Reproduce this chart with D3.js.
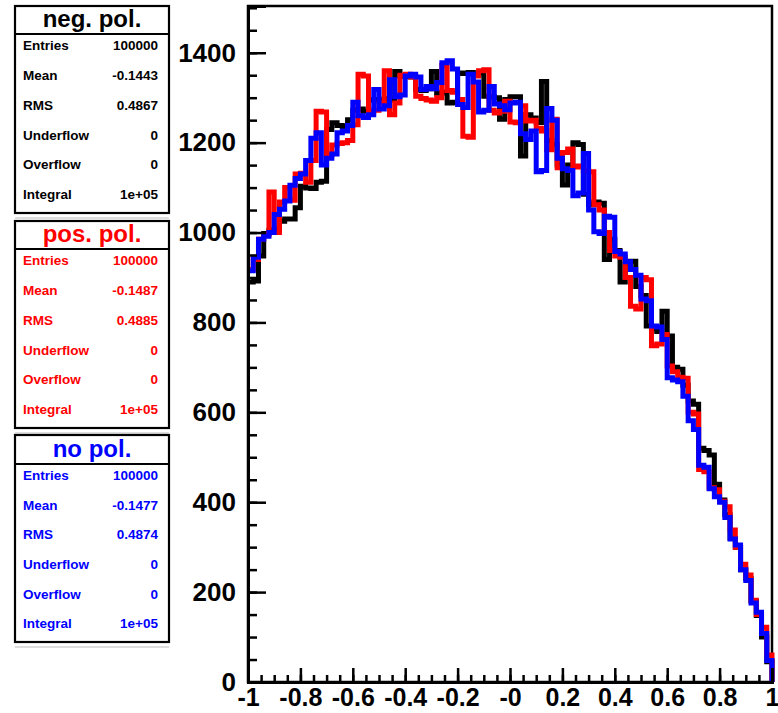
<!DOCTYPE html>
<html>
<head>
<meta charset="utf-8">
<script src="https://cdn.jsdelivr.net/npm/d3@7/dist/d3.min.js"></script>
<style>
  html, body { margin: 0; padding: 0; background: #ffffff; }
  svg { display: block; font-family: "Liberation Sans", Arial, Helvetica, sans-serif; }
</style>
</head>
<body>
<svg id="chart" width="778" height="713"></svg>
<script>
// ---- data ----
const xMin = -1, xMax = 1, nBins = 100;
const yMax = 1504;

const negPol = [
  890, 892, 948, 998, 1005, 1008, 1025, 1030, 1030, 1055,
  1103, 1099, 1098, 1112, 1114, 1229, 1244, 1238, 1236, 1251,
  1272, 1275, 1270, 1295, 1296, 1292, 1298, 1295, 1358, 1348,
  1347, 1346, 1318, 1316, 1320, 1358, 1310, 1312, 1288, 1290,
  1355, 1354, 1356, 1352, 1355, 1303, 1302, 1300, 1252, 1296,
  1302, 1302, 1170, 1262, 1255, 1245, 1336, 1205, 1196, 1150,
  1106, 1150, 1200, 1196, 1085, 1062, 1068, 1065, 940, 985,
  960, 890, 930, 936, 880, 860, 792, 786, 780, 825,
  770, 700, 696, 660, 625, 618, 520, 515, 505, 440,
  405, 372, 320, 300, 250, 230, 180, 148, 100, 45
];
const posPol = [
  918, 940, 985, 995, 1090, 1000, 1068, 1100, 1072, 1130,
  1132, 1112, 1160, 1270, 1268, 1172, 1195, 1198, 1200, 1205,
  1240, 1352, 1348, 1270, 1272, 1290, 1360, 1262, 1288, 1350,
  1352, 1346, 1303, 1298, 1295, 1292, 1300, 1372, 1316, 1312,
  1296, 1214, 1212, 1348, 1360, 1362, 1272, 1266, 1270, 1292,
  1246, 1244, 1282, 1248, 1250, 1232, 1226, 1184, 1252, 1144,
  1178, 1186, 1146, 1148, 1138, 1135, 1062, 1050, 1000, 960,
  948, 945, 900, 836, 830, 900, 895, 748, 752, 773,
  703, 690, 678, 676, 600, 596, 473, 468, 432, 428,
  402, 390, 338, 300, 262, 238, 182, 150, 122, 60
];
const noPol = [
  915, 945, 985, 992, 1000, 1040, 1052, 1070, 1105, 1120,
  1130, 1160, 1210, 1222, 1150, 1165, 1175, 1222, 1226, 1238,
  1290, 1260, 1256, 1262, 1318, 1275, 1282, 1340, 1302, 1306,
  1348, 1352, 1346, 1318, 1325, 1320, 1334, 1378, 1382, 1364,
  1285, 1278, 1352, 1335, 1268, 1272, 1325, 1286, 1282, 1273,
  1288, 1290, 1220, 1207, 1226, 1135, 1138, 1276, 1250, 1165,
  1142, 1138, 1082, 1088, 1176, 1050, 1002, 998, 1036, 1034,
  958, 952, 935, 918, 905, 852, 848, 792, 790, 762,
  677, 672, 668, 636, 581, 562, 482, 478, 430, 412,
  400, 366, 318, 305, 250, 226, 176, 155, 108, 48
];

const seriesNames = ["neg. pol.", "pos. pol.", "no pol."];
const seriesColors = ["#000000", "#ff0000", "#0000ff"];
const statNames = ["Entries", "Mean", "RMS", "Underflow", "Overflow", "Integral"];
const statNeg = ["100000", "-0.1443", "0.4867", "0", "0", "1e+05"];
const statPos = ["100000", "-0.1487", "0.4885", "0", "0", "1e+05"];
const statNo  = ["100000", "-0.1477", "0.4874", "0", "0", "1e+05"];

const xMajorTicks = [-1, -0.8, -0.6, -0.4, -0.2, 0, 0.2, 0.4, 0.6, 0.8, 1];
const xTickLabels = ["-1", "-0.8", "-0.6", "-0.4", "-0.2", "-0", "0.2", "0.4", "0.6", "0.8", "1"];
const yMajorTicks = [0, 200, 400, 600, 800, 1000, 1200, 1400];
const yTickLabels = ["0", "200", "400", "600", "800", "1000", "1200", "1400"];

// ---- layout ----
const svg = d3.select("#chart");
const plot = { left: 248, right: 772, top: 6, bottom: 682 };

const x = d3.scaleLinear().domain([xMin, xMax]).range([plot.left, plot.right]);
const y = d3.scaleLinear().domain([0, yMax]).range([plot.bottom, plot.top]);

// frame
svg.append("rect")
  .attr("x", plot.left).attr("y", plot.top)
  .attr("width", plot.right - plot.left).attr("height", plot.bottom - plot.top)
  .attr("fill", "#ffffff").attr("stroke", "#000").attr("stroke-width", 2.5);

// histograms
const binW = (xMax - xMin) / nBins;
function histPoints(vals) {
  const pts = [];
  vals.forEach((v, i) => {
    const x0 = xMin + i * binW, x1 = xMin + (i + 1) * binW;
    pts.push([x(x0), y(v)]);
    pts.push([x(x1), y(v)]);
  });
  pts.push([x(xMax), y(0)]);
  return pts;
}
const line = d3.line();
const allSeries = [negPol, posPol, noPol];
allSeries.forEach((vals, k) => {
  svg.append("path")
    .attr("d", line(histPoints(vals)))
    .attr("fill", "none")
    .attr("stroke", seriesColors[k])
    .attr("stroke-width", 5)
    .attr("stroke-linejoin", "miter")
    .attr("stroke-linecap", "butt");
});

// axes
const fmtX = d => xTickLabels[xMajorTicks.findIndex(t => Math.abs(t - d) < 1e-9)];
const fmtY = d => yTickLabels[yMajorTicks.indexOf(d)];

const xMinor = d3.range(-1, 1.0001, 0.05).map(v => +v.toFixed(2));
const yMinor = d3.range(0, 1501, 50);

const gxMinor = svg.append("g").attr("transform", `translate(0,${plot.bottom})`)
  .call(d3.axisBottom(x).tickValues(xMinor).tickSize(-7).tickFormat(""));
const gx = svg.append("g").attr("transform", `translate(0,${plot.bottom})`)
  .call(d3.axisBottom(x).tickValues(xMajorTicks).tickSize(-14).tickPadding(0).tickFormat(fmtX));

const gyMinor = svg.append("g").attr("transform", `translate(${plot.left},0)`)
  .call(d3.axisLeft(y).tickValues(yMinor).tickSize(-9).tickFormat(""));
const gy = svg.append("g").attr("transform", `translate(${plot.left},0)`)
  .call(d3.axisLeft(y).tickValues(yMajorTicks).tickSize(-18).tickPadding(26).tickFormat(fmtY));

[gxMinor, gx, gyMinor, gy].forEach(g => {
  g.select(".domain").attr("stroke", "#000").attr("stroke-width", 3);
  g.selectAll(".tick line").attr("stroke", "#000").attr("stroke-width", 2.5);
});
gx.selectAll(".tick text")
  .attr("font-size", 25).attr("font-weight", "bold").attr("fill", "#000")
  .attr("y", 24).attr("dy", 0);
gy.selectAll(".tick text")
  .attr("font-size", 26).attr("font-weight", "bold").attr("fill", "#000")
  .attr("dx", 0);
gy.selectAll(".tick text").attr("x", -12);

// stat boxes
const boxes = [
  { top: 6, sep: 34, bottom: 213, stats: statNeg },
  { top: 221, sep: 249, bottom: 428, stats: statPos },
  { top: 435, sep: 464, bottom: 642, stats: statNo }
];
const boxL = 15, boxR = 169;
boxes.forEach((b, k) => {
  const col = seriesColors[k];
  const g = svg.append("g");
  g.append("line").attr("x1", boxL).attr("x2", boxR)
    .attr("y1", b.bottom + 5).attr("y2", b.bottom + 5)
    .attr("stroke", "#bbbbbb").attr("stroke-width", 1);
  g.append("rect").attr("x", boxL).attr("y", b.top)
    .attr("width", boxR - boxL).attr("height", b.bottom - b.top)
    .attr("fill", "#fff").attr("stroke", "#000").attr("stroke-width", 2.2);
  g.append("line").attr("x1", boxL).attr("x2", boxR)
    .attr("y1", b.sep).attr("y2", b.sep)
    .attr("stroke", "#000").attr("stroke-width", 2);
  g.append("text").attr("x", (boxL + boxR) / 2).attr("y", (b.top + b.sep) / 2 + 1)
    .attr("text-anchor", "middle").attr("dominant-baseline", "middle")
    .attr("font-size", 24).attr("font-weight", "bold").attr("fill", col)
    .text(seriesNames[k]);
  const rowH = (b.bottom - b.sep) / statNames.length;
  statNames.forEach((name, i) => {
    const cy = b.sep + rowH * (i + 0.42);
    g.append("text").attr("x", boxL + 8).attr("y", cy)
      .attr("dominant-baseline", "middle")
      .attr("font-size", 13.5).attr("font-weight", "bold").attr("fill", col)
      .text(name);
    g.append("text").attr("x", boxR - 11).attr("y", cy)
      .attr("text-anchor", "end").attr("dominant-baseline", "middle")
      .attr("font-size", 13.5).attr("font-weight", "bold").attr("fill", col)
      .text(b.stats[i]);
  });
});
</script>
</body>
</html>
